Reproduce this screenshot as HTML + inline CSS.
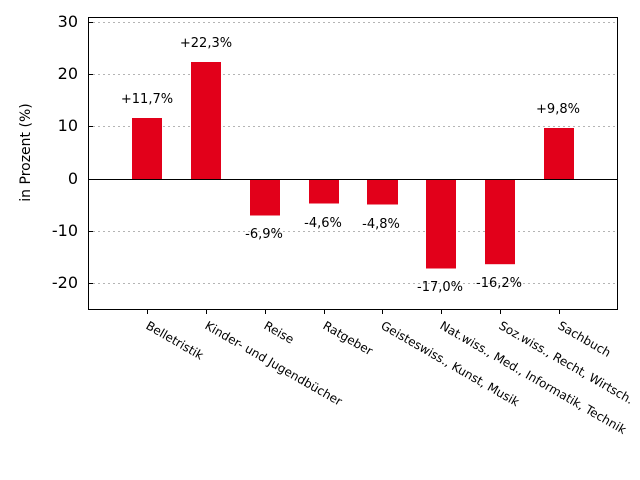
<!DOCTYPE html>
<html><head><meta charset="utf-8"><style>
html,body{margin:0;padding:0;background:#fff;}
svg{display:block;}
text{font-family:"DejaVu Sans","Liberation Sans",sans-serif;fill:#000;}
</style></head><body>
<svg width="640" height="480" viewBox="0 0 640 480" xmlns="http://www.w3.org/2000/svg">
<rect width="640" height="480" fill="#fff"/>
<!-- grid -->
<g stroke="#b4b4b4" stroke-width="1" stroke-dasharray="2,3">
<line x1="93" y1="22.5" x2="617" y2="22.5"/>
<line x1="93" y1="74.5" x2="617" y2="74.5"/>
<line x1="93" y1="126.5" x2="617" y2="126.5"/>
<line x1="93" y1="231.5" x2="617" y2="231.5"/>
<line x1="93" y1="283.5" x2="617" y2="283.5"/>
</g>
<!-- bars -->
<g fill="#e2001a">
<rect x="132" y="118" width="30" height="61.5"/>
<rect x="191" y="62" width="30" height="117.5"/>
<rect x="250" y="179.5" width="30" height="36"/>
<rect x="309" y="179.5" width="30" height="24"/>
<rect x="367" y="179.5" width="31" height="25"/>
<rect x="426" y="179.5" width="30" height="89"/>
<rect x="485" y="179.5" width="30" height="84.7"/>
<rect x="544" y="128" width="30" height="51.5"/>
</g>
<!-- zero line -->
<line x1="88" y1="179.5" x2="617" y2="179.5" stroke="#000" stroke-width="1"/>
<!-- frame -->
<rect x="88.5" y="17.5" width="529" height="292" fill="none" stroke="#000" stroke-width="1"/>
<!-- y ticks -->
<g stroke="#000" stroke-width="1">
<line x1="88" y1="22.5" x2="93" y2="22.5"/>
<line x1="88" y1="74.5" x2="93" y2="74.5"/>
<line x1="88" y1="126.5" x2="93" y2="126.5"/>
<line x1="88" y1="179.5" x2="93" y2="179.5"/>
<line x1="88" y1="231.5" x2="93" y2="231.5"/>
<line x1="88" y1="283.5" x2="93" y2="283.5"/>
<!-- x ticks -->
<line x1="147.5" y1="309" x2="147.5" y2="314"/>
<line x1="206.5" y1="309" x2="206.5" y2="314"/>
<line x1="265.5" y1="309" x2="265.5" y2="314"/>
<line x1="324.5" y1="309" x2="324.5" y2="314"/>
<line x1="382.5" y1="309" x2="382.5" y2="314"/>
<line x1="441.5" y1="309" x2="441.5" y2="314"/>
<line x1="500.5" y1="309" x2="500.5" y2="314"/>
<line x1="559.5" y1="309" x2="559.5" y2="314"/>
</g>
<!-- y tick labels -->
<g font-size="16" text-anchor="end">
<text x="78" y="27">30</text>
<text x="78" y="79">20</text>
<text x="78" y="131">10</text>
<text x="78" y="184">0</text>
<text x="78" y="236">-10</text>
<text x="78" y="288">-20</text>
</g>
<!-- y axis label -->
<text x="0" y="0" font-size="14" text-anchor="middle" transform="translate(30,152.5) rotate(-90)">in Prozent (%)</text>
<!-- bar value labels -->
<g font-size="13" text-anchor="middle">
<text x="147" y="103">+11,7%</text>
<text x="206" y="47">+22,3%</text>
<text x="264" y="238">-6,9%</text>
<text x="323" y="227">-4,6%</text>
<text x="381" y="228">-4,8%</text>
<text x="440" y="291">-17,0%</text>
<text x="499" y="287">-16,2%</text>
<text x="558" y="113">+9,8%</text>
</g>
<!-- x labels -->
<g font-size="12">
<text transform="translate(145,328) rotate(30)">Belletristik</text>
<text transform="translate(204,328) rotate(30)">Kinder- und Jugendbücher</text>
<text transform="translate(263,328) rotate(30)">Reise</text>
<text transform="translate(322,328) rotate(30)">Ratgeber</text>
<text transform="translate(380,328) rotate(30)">Geisteswiss., Kunst, Musik</text>
<text transform="translate(439,328) rotate(30)">Nat.wiss., Med., Informatik, Technik</text>
<text transform="translate(498,328) rotate(30)">Soz.wiss., Recht, Wirtsch.</text>
<text transform="translate(557,328) rotate(30)">Sachbuch</text>
</g>
</svg>
</body></html>
